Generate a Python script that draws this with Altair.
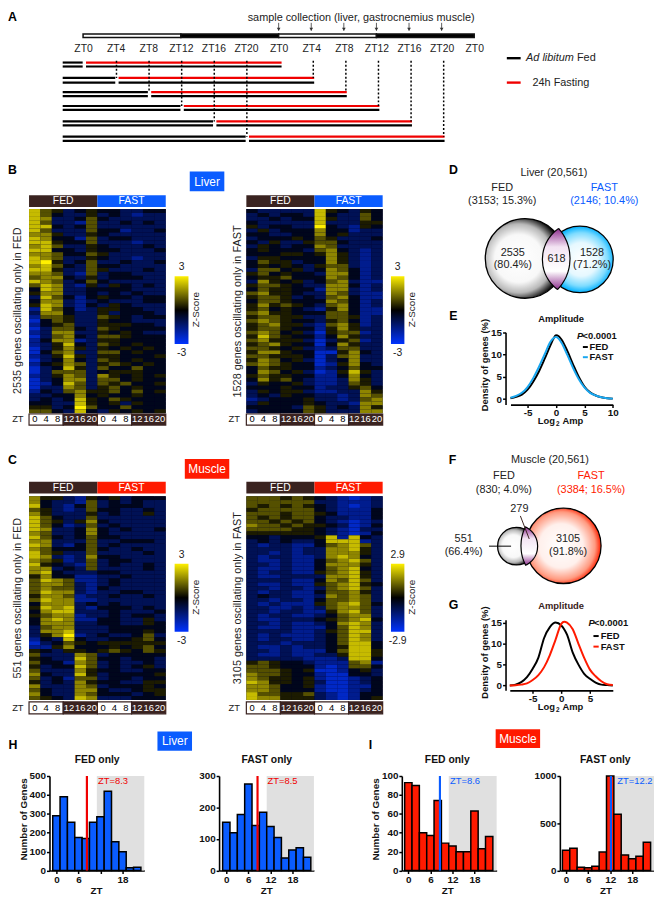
import altair as alt
import numpy as np
import pandas as pd

# ---------- data ----------
ZT_HOURS = [0, 4, 8, 12, 16, 20, 24, 28, 32, 36, 40, 44, 48]
ZT_NAMES = ["ZT0", "ZT4", "ZT8", "ZT12", "ZT16", "ZT20", "ZT0", "ZT4", "ZT8", "ZT12", "ZT16", "ZT20", "ZT0"]
SAMPLE_HOURS = [24, 28, 32, 36, 40, 44]
FAST_START = [0, 4, 8, 12, 16, 20]
COLS = ["0", "4", "8", "12", "16", "20"]

liver_fed = ["865345443344","864335343233","873346433333","863326334343","884346333333","863336442334","775335433333","874426344333","885446333233","786335433343","884435443334","776446533333","876335433233","895346334334","786436443333","885336533343","776326344333","677435344433","876346433333","687325354343","487334444333","577334343433","386424544344","477323433344","587324354333","286423554433","377433534443","266533654344","146533544333","245633555443","136643654444","237733545433","136743665444","247723554444","235843654544","135753545454","146733664544","235853554445","134743654544","245763565454","134853644644","136663455544","235763754545","134773664544","124863656445","133763564544","243675564645","334474544544","343485465444","443385453544","553496446444","664384354545"]
liver_fast = ["433333854354","343443843364","334344853364","433333833355","534433943254","353444744233","443344745333","344454653334","435335664333","354344763333","454443674323","444554575323","355444475323","465534475323","454543566323","366453476423","564544377423","455644476423","375453467322","566543377423","465544277323","675543376322","566534367422","466544476423","575654367423","564543257422","675544466422","566553366523","676544356423","567553267523","566544257533","676453156623","586544247533","675553135623","567544147533","665453236633","577544115743","665554136733","576453134733","676544125743","465544234644","476453125853","565544224743","475643223753","354453223653","444544233564","354553223375","343544332376","234445332367","354445433277","444436534375","344446533377"]
muscle_fed = ["755325453444","743326343433","843246344433","653236443343","753335343353","864336333333","865357433333","864236343333","873347434334","763347433333","864346443333","773336334443","873246343333","764446433433","865336333343","873237443333","765236344333","854326343343","773436333343","784333443333","574422334333","687622343333","677632343333","676632433333","687732334433","577623343343","687722333333","477734343333","587832444343","478833343334","567723343443","478722443353","477733443354","367733344444","377833344454","357923433463","243843344564","134654555555","225744454564","543554565465","633376344444","543386443443","644276343343","534486343453","633375443344","743385344445","634266344344","534375443355","733376344454","643377433455","743376444345","654387333444"]
muscle_fast = ["666565432123","666666332223","656565432123","566666432224","666566542224","656566433224","665656432123","766565543124","666655432133","555555432124","443444582843","343433488823","323322467863","333323377853","332323377753","323322378743","322322467863","332322477753","322322467843","323322567853","322333377853","333322476863","322322567854","332332367863","323322466753","343322376763","332332466763","323222567864","332232367763","332332257863","323322346773","322333456784","332322347873","322322246873","333322356883","323222346873","323322346873","333233346884","322323345884","332322246885","322322335885","333332223884","565443222672","665444212664","666545112453","766544211443","765545211234","875545311234","776445211224","776444211234","866556321244","877555321245"]

E_x = [-8,-7,-6,-5,-4,-3,-2,-1,-0.5,0,0.5,1,2,3,4,5,6,7,8,9,10]
E_fed = [0.2,0.5,1.0,2.1,3.9,6.2,9.0,12.0,13.4,14.3,14.1,13.3,10.8,7.8,5.0,2.8,1.5,0.8,0.4,0.2,0.1]
E_fast = [0.3,0.7,1.4,2.7,4.7,7.2,10.0,12.8,13.6,13.9,13.5,12.6,9.9,7.0,4.5,2.6,1.4,0.8,0.4,0.2,0.1]
G_x = [-9,-8,-7,-6,-5,-4,-3,-2,-1,0,0.5,1,2,3,4,5,6,7,8,9]
G_fed = [0,0.2,0.8,2.0,4.0,6.7,11.4,14.0,15.1,14.4,13.5,12.2,7.9,5.0,2.8,1.6,0.7,0.2,0.1,0]
G_fast = [0,0.05,0.2,0.5,1.3,2.5,4.4,7.3,11.0,14.8,15.3,15.1,13.5,10.0,6.6,3.8,2.2,1.0,0.3,0.1]

BIN_ZT = [0, 2, 4, 6, 8, 10, 12, 14, 16, 18, 20, 22]
H_fed = [290, 390, 255, 175, 170, 255, 285, 420, 152, 100, 15, 18]
H_fast = [153, 120, 178, 275, 143, 185, 140, 105, 40, 65, 72, 42]
I_fed = [93, 90, 40, 37, 74, 29, 26, 20, 20, 63, 23, 36]
I_fast = [215, 235, 35, 30, 45, 195, 1000, 595, 165, 125, 150, 300]

# ---------- style / layout ----------
W, H = 654, 892
FONT = "Liberation Sans"
BROWN, BLUE, RED, CYAN = "#3a2320", "#0a5cff", "#ff1a00", "#1aa7f0"
INK = "#222222"
PLAIN = "'' + datum.value"
layers, texts = [], []


def sc(dom, rng):
    return alt.Scale(domain=dom, range=[rng[0] - 8, rng[1] - 8], zero=False, nice=False)


PX = sc([0, 662], [0, 662])
PY = sc([0, 900], [0, 900])
HX = sc([0, 48], [84, 480])


def qx(f="x", scale=PX, axis=None):
    return alt.X(f"{f}:Q", scale=scale, axis=axis)


def qy(f="y", scale=PY, axis=None):
    return alt.Y(f"{f}:Q", scale=scale, axis=axis)


def xaxis(y, vals, **kw):
    kw.setdefault("labelExpr", PLAIN)
    return alt.Axis(orient="bottom", offset=(y - 8) - H, values=vals, title=None, grid=False, **kw)


def yaxis(x, vals, **kw):
    kw.setdefault("labelExpr", PLAIN)
    return alt.Axis(orient="left", offset=-(x - 8), values=vals, title=None, grid=False, **kw)


def t(x, y, s, size=10, c=INK, w="normal", st="normal", a="center", ang=0):
    texts.append(dict(x=x, y=y, t=s, c=c, size=size, w=w, st=st, a=a, ang=ang))


def rects(items, **mk):
    df = pd.DataFrame(items, columns=["x", "x2", "y", "y2", "c"])
    layers.append(alt.Chart(df).mark_rect(**mk).encode(
        x=qx(), x2="x2:Q", y=qy(), y2="y2:Q", color=alt.Color("c:N", scale=None)))


def seg(x1, y1, x2, y2, c="black", sw=1.0):
    df = pd.DataFrame({"x": [x1, x2], "y": [y1, y2], "g": [0, 1]})
    layers.append(alt.Chart(df).mark_line(color=c, strokeWidth=sw).encode(x=qx(), y=qy(), order="g:Q"))


# ---------- panel A ----------
bar = pd.DataFrame({"a": [0, 12, 24, 36], "b": [12, 24, 36, 48], "y": [28.7] * 4, "y2": [32.3] * 4,
                    "c": ["white", "black", "white", "black"]})
layers.append(alt.Chart(bar).mark_rect(stroke="#111", strokeWidth=1.5).encode(
    x=qx("a", HX), x2="b:Q", y=qy(), y2="y2:Q", color=alt.Color("c:N", scale=None)))

ROW_Y = [(57.7, 61.7), (73.3, 78), (87.7, 91.7), (101.7, 105.7), (117.3, 121.3), (132.7, 137)]
ln = []
for g, (yr, yb) in zip(FAST_START, ROW_Y):
    ln += [dict(a=-2.5, b=g - 0.05, y=yr, c="black"), dict(a=-2.5, b=g - 0.05, y=yb, c="black"),
           dict(a=g + 0.36, b=g + 24.36, y=yr, c="#f00000"), dict(a=g + 0.36, b=g + 24.36, y=yb, c="black")]
layers.append(alt.Chart(pd.DataFrame(ln)).mark_rule(strokeWidth=2.2).encode(
    x=qx("a", HX), x2="b:Q", y=qy(), color=alt.Color("c:N", scale=None)))

dots = []
for g, (yr, yb) in list(zip(FAST_START, ROW_Y))[1:]:
    dots += [dict(a=g + 0.1, y=56, y2=yr), dict(a=g + 24.25, y=56, y2=yr)]
layers.append(alt.Chart(pd.DataFrame(dots)).mark_rule(color="black", strokeWidth=1.5, strokeDash=[2, 2]).encode(
    x=qx("a", HX), y=qy(), y2="y2:Q"))

arrows = pd.DataFrame({"a": SAMPLE_HOURS, "y": [17.5] * 6, "y2": [25.5] * 6, "tip": [24] * 6})
layers.append(alt.Chart(arrows).mark_rule(color="#333", strokeWidth=0.8).encode(x=qx("a", HX), y=qy(), y2="y2:Q"))
layers.append(alt.Chart(arrows).mark_point(shape="triangle-down", filled=True, color="#333", size=14, opacity=1).encode(
    x=qx("a", HX), y=qy("tip")))

for h, n in zip(ZT_HOURS, ZT_NAMES):
    t(84.5 + h * 8.25, 44.3, n, 10.5)
t(365.5, 13, "sample collection (liver, gastrocnemius muscle)", 11)
seg(513, 53.3, 527, 53.3, "black", 2.4)
seg(513, 78, 527, 78, "#f00000", 2.4)
t(532.5, 53.5, "Ad libitum", 11, st="italic", a="left")
t(584, 53.5, "Fed", 11, a="left")
t(539, 78.5, "24h Fasting", 11, a="left")


# ---------- heatmaps ----------
def heat(rows, x0, x1, top, bot, hdr, strip, fast_color, label, lx, ly, zx, cb, cby, lo, hi, ztx):
    nr = len(rows)
    X = sc([0, 12], [x0, x1])
    Y = sc([0, nr], [top, bot])
    rects([(x0, x1, top, bot, "#000022")])
    cells = [dict(a=j, b=j + 1, r=i, r2=i + 1, z=int(ch) * 6 / 9 - 3)
             for i, row in enumerate(rows) for j, ch in enumerate(row)]
    layers.append(alt.Chart(pd.DataFrame(cells)).mark_rect().encode(
        x=qx("a", X), x2="b:Q", y=qy("r", Y), y2="r2:Q",
        color=alt.Color("z:Q", legend=None, scale=alt.Scale(domain=[-3, 0, 3], range=["#0033ff", "#000000", "#fff000"], interpolate="rgb"))))
    mid = (x0 + x1) / 2
    rects([(x0, mid, hdr[0], hdr[1], BROWN), (mid, x1, hdr[0], hdr[1], fast_color)])
    t((x0 + mid) / 2, sum(hdr) / 2, "FED", 10.5, "white")
    t((mid + x1) / 2, sum(hdr) / 2, "FAST", 10.5, "white")
    q = (x1 - x0) / 4
    rects([(x0 + k * q, x0 + (k + 1) * q, strip[0], strip[1], "white" if k % 2 == 0 else BROWN) for k in range(4)],
          stroke=BROWN, strokeWidth=1.2)
    for j in range(12):
        lab = COLS[j % 6]
        t(x0 + (j + 0.5) * q / 3, sum(strip) / 2, lab, 9.5, "black" if j % 6 < 3 else "white")
    t(ztx, sum(strip) / 2, "ZT", 9.5)
    t(lx, ly, label, 11, ang=270)
    grad = alt.Gradient(gradient="linear", x1=0, x2=0, y1=0, y2=1, stops=[
        alt.GradientStop(offset=0, color="#fff000"), alt.GradientStop(offset=0.5, color="#000000"),
        alt.GradientStop(offset=1, color="#0033ff")])
    df = pd.DataFrame({"x": [cb[0]], "x2": [cb[1]], "y": [cby[0]], "y2": [cby[1]]})
    layers.append(alt.Chart(df).mark_rect(color=grad).encode(x=qx(), x2="x2:Q", y=qy(), y2="y2:Q"))
    cx = sum(cb) / 2
    t(cx, cby[0] - 9, hi, 10.5)
    t(cx, cby[1] + 9, lo, 10.5)
    t(zx, sum(cby) / 2 - 0.5, "Z-Score", 10, ang=270)


heat(liver_fed, 29.3, 167.7, 206, 412.7, (192, 204), (413.5, 424.7), BLUE, "2535 genes oscillating only in FED", 18, 309, 198, (176.7, 190.7), (274, 342.7), "-3", "3", 18)
heat(liver_fast, 249.3, 387.3, 206, 412.7, (192, 204), (413.5, 424.7), BLUE, "1528 genes oscillating only in FAST", 240.7, 309.7, 416.7, (395.7, 409.3), (274, 342.7), "-3", "3", 237)
heat(muscle_fed, 29.3, 167.7, 496.7, 703, (482, 494), (705, 717), RED, "551 genes oscillating only in FED", 18, 600, 198, (176.7, 190.7), (565, 634), "-3", "3", 18)
heat(muscle_fast, 249.3, 387.3, 496.7, 703, (482, 494), (705, 717), RED, "3105 genes oscillating only in FAST", 240.7, 600, 416.7, (395.7, 409.3), (565, 634), "-2.9", "2.9", 237)

rects([(192, 227, 168, 188, BLUE), (187, 232, 459, 479, RED), (159.3, 194.3, 735, 754.3, BLUE), (501.7, 546.7, 732.7, 751.7, RED)])
t(209.5, 178.5, "Liver", 12, "white")
t(209.5, 469.5, "Muscle", 12, "white")
t(176.8, 745, "Liver", 12, "white")
t(524.2, 742.5, "Muscle", 12, "white")


# ---------- venn diagrams ----------
def radial(stops, cx=0.5, r=0.5):
    return alt.RadialGradient(gradient="radial", x1=cx, y1=0.5, r1=0, x2=cx, y2=0.5, r2=r,
                              stops=[alt.GradientStop(offset=o, color=c) for o, c in stops])


def circle(cx, cy, r, fill):
    df = pd.DataFrame({"x": [cx], "y": [cy]})
    layers.append(alt.Chart(df).mark_circle(size=float(np.pi * r * r), fill=fill, stroke="black", strokeWidth=1.3, opacity=1).encode(x=qx(), y=qy()))


def lens(c1, c2):
    (x1, y1, r1), (x2, y2, r2) = c1, c2
    xs = np.linspace(x2 - r2, x1 + r1, 60)
    top = np.maximum(y1 - np.sqrt(np.maximum(r1**2 - (xs - x1)**2, 0)), y2 - np.sqrt(np.maximum(r2**2 - (xs - x2)**2, 0)))
    bot = np.minimum(y1 + np.sqrt(np.maximum(r1**2 - (xs - x1)**2, 0)), y2 + np.sqrt(np.maximum(r2**2 - (xs - x2)**2, 0)))
    keep = bot >= top
    df = pd.DataFrame({"x": xs[keep], "y": top[keep], "y2": bot[keep]})
    grad = alt.Gradient(gradient="linear", x1=0, x2=0, y1=0, y2=1, stops=[
        alt.GradientStop(offset=0, color="#8e2f8e"), alt.GradientStop(offset=0.3, color="#f3e3f3"),
        alt.GradientStop(offset=0.7, color="#ffffff"), alt.GradientStop(offset=1, color="#8e2f8e")])
    layers.append(alt.Chart(df).mark_area(color=grad, stroke="black", strokeWidth=1.2, opacity=1).encode(x=qx(), y=qy(), y2="y2:Q"))


GREY_STOPS = [(0, "#ffffff"), (0.5, "#f8f8f8"), (0.72, "#b8b8b8"), (0.9, "#111111"), (1, "#000000")]
D1, D2 = (531.5, 256, 45.5), (587, 257, 38)
circle(*D1, radial(GREY_STOPS, 0.42, 0.6))
circle(*D2, radial([(0, "#ffffff"), (0.5, "#e6f8ff"), (0.8, "#7fdcff"), (1, "#00b0ff")], 0.52, 0.5))
lens(D1, D2)
F1, F2 = (522.7, 547.3, 21.5), (570.3, 547, 43)
circle(*F1, radial(GREY_STOPS, 0.42, 0.6))
circle(*F2, radial([(0, "#ffffff"), (0.55, "#fff0ec"), (0.85, "#ff9a80"), (1, "#ff2000")], 0.47, 0.53))
lens(F1, F2)
seg(526.7, 516.7, 535.7, 540, BROWN, 1)
seg(495, 547.3, 517.3, 547.3, "black", 1)

t(560.7, 170, "Liver (20,561)", 11)
t(508.3, 184.7, "FED", 11)
t(508.3, 198, "(3153; 15.3%)", 11)
t(611.7, 184.7, "FAST", 11, BLUE)
t(611.7, 198, "(2146; 10.4%)", 11, BLUE)
t(519, 251, "2535", 11)
t(519, 263, "(80.4%)", 11)
t(563.3, 256.7, "618", 11)
t(599.3, 251, "1528", 11)
t(599.3, 263, "(71.2%)", 11)
t(556.7, 460, "Muscle (20,561)", 11)
t(510, 476.7, "FED", 11)
t(510, 490, "(830; 4.0%)", 11)
t(598.3, 476.7, "FAST", 11, RED)
t(598.3, 490, "(3384; 16.5%)", 11, RED)
t(525.7, 509.3, "279", 11)
t(469.3, 540, "551", 11)
t(469.3, 553.3, "(66.4%)", 11)
t(575, 540, "3105", 11)
t(575, 553.3, "(91.8%)", 11)


# ---------- density panels ----------
def density(xs, a, b, cb, xsc, ysc, ax_x, ax_y, xticks, ty, title_c, title_y, pos):
    xa = xaxis(ax_y, xticks, labelPadding=0)
    ya = yaxis(ax_x, [0, 5, 10, 15])
    first = pd.DataFrame({"x": xs, "y": a})
    second = pd.DataFrame({"x": xs, "y": b})
    layers.append(alt.Chart(first).mark_line(color="black", strokeWidth=2, interpolate="monotone").encode(x=qx("x", xsc, xa), y=qy("y", ysc, ya)))
    layers.append(alt.Chart(second).mark_line(color=cb, strokeWidth=2, interpolate="monotone").encode(x=qx("x", xsc), y=qy("y", ysc)))
    t(490.7, ty, "Density of genes (%)", 9.5, "#111", "bold", ang=270)
    t(568, title_y, "Amplitude", 9.5, title_c, "bold")
    base = ax_y + 17
    t(561.8, base, "Log", 9.5, "#111", "bold", a="right")
    t(564.7, base + 2.5, "2", 6.5, "#111", "bold")
    t(569.3, base, "Amp", 9.5, "#111", "bold", a="left")
    px, py, lx0, lx1, tx, ly1, ly2 = pos
    t(px, py, "P", 9.5, "#111", "bold", "italic", a="left")
    t(px + 5.6, py, "<0.0001", 9.5, "#111", "bold", a="left")
    seg(lx0, ly1, lx1, ly1, "black", 2)
    seg(lx0, ly2, lx1, ly2, cb, 2)
    t(tx, ly1, "FED", 9.5, "#111", "bold", a="left")
    t(tx, ly2, "FAST", 9.5, "#111", "bold", a="left")


density(E_x, E_fed, E_fast, CYAN, sc([-8, 10], [516.7, 620.3]), sc([-1.24, 15], [404, 330.7]), 511.7, 404,
        [-5, 0, 5, 10], 364, "#111", 317.5, (584, 334.5, 590, 595, 596.7, 345.7, 356))
density(G_x, G_fed, G_fast, RED, sc([-9, 9], [516, 620.3]), sc([-1.18, 15.8], [693.3, 621.7]), 511.7, 693.3,
        [-5, 0, 5], 655, BROWN, 608, (595.7, 625, 600.7, 606, 608, 638.3, 649))


# ---------- histograms ----------
def hist(vals, ax, zt0, ymax, yticks, fill, zt, line_c, lab, labx, gray0, titlex, ztx, ylabx=None, skip12=False):
    kx = 3.72
    right = ax + 96
    X = sc([(ax - zt0) / kx, (right - zt0) / kx], [ax, right])
    Y = sc([0, ymax], [875.7, 780])
    gray = pd.DataFrame({"a": [gray0], "b": [(right - zt0) / kx], "y": [0], "y2": [ymax]})
    layers.append(alt.Chart(gray).mark_rect(color="#e0e0e0").encode(x=qx("a", X), x2="b:Q", y=qy("y", Y), y2="y2:Q"))
    df = pd.DataFrame({"a": [z - 1 for z in BIN_ZT], "b": [z + 1 for z in BIN_ZT], "v": vals})
    kw = {"labelExpr": "datum.value == 12 ? '' : '' + datum.value"} if skip12 else {}
    layers.append(alt.Chart(df).mark_rect(color=fill, stroke="black", strokeWidth=1.5).encode(
        x=qx("a", X, xaxis(875.7, [0, 6, 12, 18], labelPadding=1, **kw)), x2="b:Q",
        y=alt.Y("v:Q", scale=Y, axis=yaxis(ax, yticks)), y2=alt.Y2(datum=0)))
    vl = pd.DataFrame({"a": [zt], "y": [0], "y2": [ymax]})
    layers.append(alt.Chart(vl).mark_rule(color=line_c, strokeWidth=2.2).encode(x=qx("a", X), y=qy("y", Y), y2="y2:Q"))
    t(labx, 785.3, lab, 9.5, line_c)
    t(titlex, 764, "FED only" if ylabx else "FAST only", 10.5, "#111", "bold")
    t(ztx, 896, "ZT", 10, "#111", "bold")
    if ylabx:
        t(ylabx, 824, "Number of Genes", 10, "#111", "bold", ang=270)


hist(H_fed, 50, 57, 500, [0, 100, 200, 300, 400, 500], BLUE, 8.3, "#f00000", "ZT=8.3", 114.3, 11, 98.3, 97.7, 24.3, True)
hist(H_fast, 221.7, 229, 300, [0, 100, 200, 300], BLUE, 8.5, "#f00000", "ZT=8.5", 286, 11, 270, 270)
hist(I_fed, 406.7, 413.3, 100, [0, 20, 40, 60, 80, 100], RED, 8.6, BLUE, "ZT=8.6", 470.7, 11, 452.7, 453.3, 380.7)
hist(I_fast, 566.7, 573, 1000, [0, 500, 1000], RED, 12.2, BLUE, "ZT=12.2", 642.7, 12.5, 612.7, 613.3)

for L, x, y in [("A", 12.5, 12), ("B", 12.5, 167), ("C", 12.5, 460), ("D", 459, 167), ("E", 459, 314),
                ("F", 458, 460), ("G", 459, 607), ("H", 13, 749), ("I", 375, 749)]:
    t(x, y, L, 12.5, "black", "bold")

# ---------- all text, grouped by style ----------
tdf = pd.DataFrame(texts)
for key, g in tdf.groupby(["size", "w", "st", "a", "ang"]):
    size, w, st, a, ang = key
    layers.append(alt.Chart(g[["x", "y", "t", "c"]]).mark_text(
        fontSize=float(size), fontWeight=w, fontStyle=st, align=a, angle=float(ang), baseline="middle", font=FONT
    ).encode(x=qx(), y=qy(), text="t:N", color=alt.Color("c:N", scale=None)))

chart = (
    alt.layer(*layers)
    .resolve_scale(x="independent", y="independent", color="independent")
    .properties(width=W, height=H, padding=0, autosize=alt.AutoSizeParams(type="none"))
    .configure_view(stroke=None)
    .configure_axis(
        labelFont=FONT, labelFontWeight="bold", labelFontSize=10, labelColor="#111", labelPadding=1,
        domainColor="black", domainWidth=1.6, tickColor="black", tickWidth=1.5, tickSize=3,
        labelOverlap=False, labelFlush=False, grid=False,
    )
)
chart.save("out.html", embed_options={"renderer": "svg", "actions": False})
